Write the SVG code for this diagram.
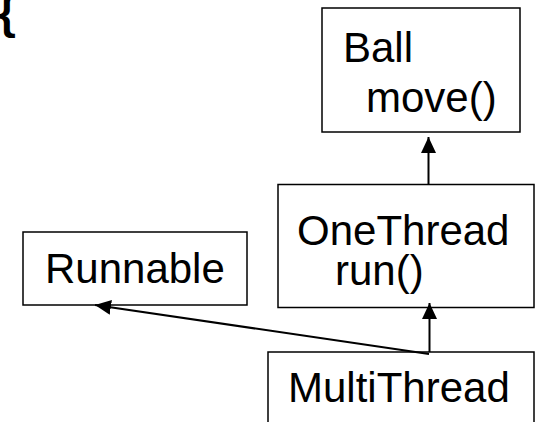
<svg xmlns="http://www.w3.org/2000/svg" width="541" height="422" viewBox="0 0 541 422">
  <style>
    .box { fill: #fff; stroke: #000; stroke-width: 1.5; }
    .lbl { font-family: "Liberation Sans", Arial, sans-serif; font-size: 42px; fill: #000; }
    .edge { stroke: #000; stroke-width: 2; fill: none; }
  </style>
  <defs>
    <marker id="arrow" markerUnits="userSpaceOnUse" markerWidth="18" markerHeight="16" refX="16" refY="7.5" orient="auto">
      <path d="M0,0 L16,7.5 L0,15 Z" fill="#000"/>
    </marker>
  </defs>
  <rect width="541" height="422" fill="#fff"/>

  <!-- partial brace at the top-left corner -->
  <text class="lbl" x="-2" y="28" style="font-size:46px;font-weight:bold">{</text>

  <g id="ball">
    <rect class="box" x="322" y="8" width="198" height="124"/>
    <text class="lbl" x="343" y="62">Ball</text>
    <text class="lbl" x="366" y="112">move()</text>
  </g>

  <g id="onethread">
    <rect class="box" x="278" y="184.5" width="256" height="123"/>
    <text class="lbl" x="297" y="245">OneThread</text>
    <text class="lbl" x="335" y="285">run()</text>
  </g>

  <g id="runnable">
    <rect class="box" x="23" y="232" width="224" height="73"/>
    <text class="lbl" x="45" y="283">Runnable</text>
  </g>

  <g id="multithread">
    <rect class="box" x="268" y="352" width="266" height="80"/>
    <text class="lbl" x="288" y="402">MultiThread</text>
  </g>

  <g id="connectors">
    <line class="edge" x1="428.5" y1="184" x2="428.5" y2="137" marker-end="url(#arrow)"/>
    <line class="edge" x1="429.5" y1="352" x2="429.5" y2="303" marker-end="url(#arrow)"/>
    <line class="edge" x1="429" y1="354" x2="95" y2="305" marker-end="url(#arrow)"/>
  </g>
</svg>
